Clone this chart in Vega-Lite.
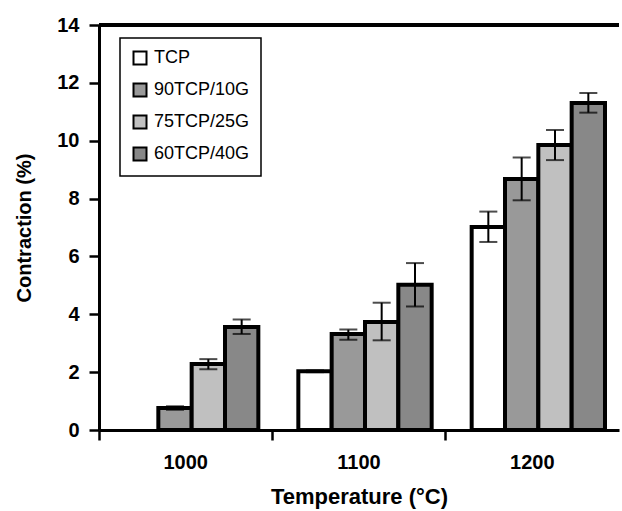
{
  "$schema": "https://vega.github.io/schema/vega-lite/v6.json",
  "width": 520,
  "height": 405,
  "autosize": "none",
  "padding": {"left": 99, "top": 25, "right": 3, "bottom": 81},
  "background": "white",
  "config": {
    "view": {"stroke": null},
    "font": "Liberation Sans",
    "legend": {"strokeWidth": 1.5}
  },
  "data": {
    "values": [
      {"temp": "1000", "series": "90TCP/10G", "value": 0.76, "lo": 0.7, "hi": 0.82},
      {"temp": "1000", "series": "75TCP/25G", "value": 2.28, "lo": 2.1, "hi": 2.45},
      {"temp": "1000", "series": "60TCP/40G", "value": 3.56, "lo": 3.32, "hi": 3.82},
      {"temp": "1100", "series": "TCP", "value": 2.03, "lo": 2.0, "hi": 2.06},
      {"temp": "1100", "series": "90TCP/10G", "value": 3.32, "lo": 3.12, "hi": 3.47},
      {"temp": "1100", "series": "75TCP/25G", "value": 3.73, "lo": 3.1, "hi": 4.4},
      {"temp": "1100", "series": "60TCP/40G", "value": 5.02, "lo": 4.27, "hi": 5.77},
      {"temp": "1200", "series": "TCP", "value": 7.02, "lo": 6.5, "hi": 7.55},
      {"temp": "1200", "series": "90TCP/10G", "value": 8.68, "lo": 7.94, "hi": 9.42},
      {"temp": "1200", "series": "75TCP/25G", "value": 9.85, "lo": 9.33, "hi": 10.37},
      {"temp": "1200", "series": "60TCP/40G", "value": 11.3, "lo": 10.97, "hi": 11.65}
    ]
  },
  "encoding": {
    "x": {
      "field": "temp",
      "type": "nominal",
      "scale": {"paddingInner": 0, "paddingOuter": 0},
      "axis": {
        "title": "Temperature (°C)",
        "labelAngle": 0,
        "labelFont": "Liberation Sans",
        "labelFontWeight": "bold",
        "labelFontSize": 20,
        "labelColor": "black",
        "labelPadding": 12,
        "bandPosition": 0,
        "tickColor": "black",
        "tickWidth": 2.5,
        "tickSize": 10,
        "domainColor": "black",
        "domainWidth": 3,
        "titleFont": "Liberation Sans",
        "titleFontWeight": "bold",
        "titleFontSize": 22,
        "titleColor": "black",
        "titlePadding": 14
      }
    },
    "xOffset": {
      "field": "series",
      "type": "nominal",
      "sort": ["TCP", "90TCP/10G", "75TCP/25G", "60TCP/40G"],
      "scale": {"paddingInner": 0, "paddingOuter": 0.6, "align": 0.65}
    }
  },
  "layer": [
    {
      "mark": {"type": "rule", "color": "black", "strokeWidth": 3},
      "encoding": {"y": {"datum": 14}, "x": null, "xOffset": null}
    },
    {
      "mark": {"type": "bar", "stroke": "black", "strokeWidth": 4},
      "encoding": {
        "y": {
          "field": "value",
          "type": "quantitative",
          "scale": {"domain": [0, 14], "nice": false},
          "axis": {
            "title": "Contraction (%)",
            "values": [0, 2, 4, 6, 8, 10, 12, 14],
            "grid": false,
            "labelFont": "Liberation Sans",
            "labelFontWeight": "bold",
            "labelFontSize": 20,
            "labelColor": "black",
            "labelPadding": 10,
            "tickColor": "black",
            "tickWidth": 2.5,
            "tickSize": 10,
            "domainColor": "black",
            "domainWidth": 3,
            "titleFont": "Liberation Sans",
            "titleFontWeight": "bold",
            "titleFontSize": 20,
            "titleColor": "black",
            "titlePadding": 22
          }
        },
        "fill": {
          "field": "series",
          "type": "nominal",
          "scale": {
            "domain": ["TCP", "90TCP/10G", "75TCP/25G", "60TCP/40G"],
            "range": ["#ffffff", "#999999", "#c0c0c0", "#888888"]
          },
          "legend": {
            "title": null,
            "orient": "none",
            "legendX": 21,
            "legendY": 13,
            "direction": "vertical",
            "fillColor": "white",
            "strokeColor": "black",
            "padding": 11,
            "rowPadding": 10,
            "symbolType": "square",
            "symbolSize": 169,
            "symbolStrokeColor": "black",
            "symbolStrokeWidth": 2,
            "symbolOpacity": 1,
            "labelFont": "Liberation Sans",
            "labelFontSize": 18,
            "labelColor": "black",
            "labelOffset": 5,
            "labelLimit": 200
          }
        }
      }
    },
    {
      "mark": {"type": "rule", "color": "black", "strokeWidth": 2},
      "encoding": {
        "y": {"field": "lo", "type": "quantitative"},
        "y2": {"field": "hi"}
      }
    },
    {
      "mark": {"type": "tick", "color": "black", "thickness": 2, "size": 18},
      "encoding": {"y": {"field": "lo", "type": "quantitative"}}
    },
    {
      "mark": {"type": "tick", "color": "black", "thickness": 2, "size": 18},
      "encoding": {"y": {"field": "hi", "type": "quantitative"}}
    }
  ]
}
